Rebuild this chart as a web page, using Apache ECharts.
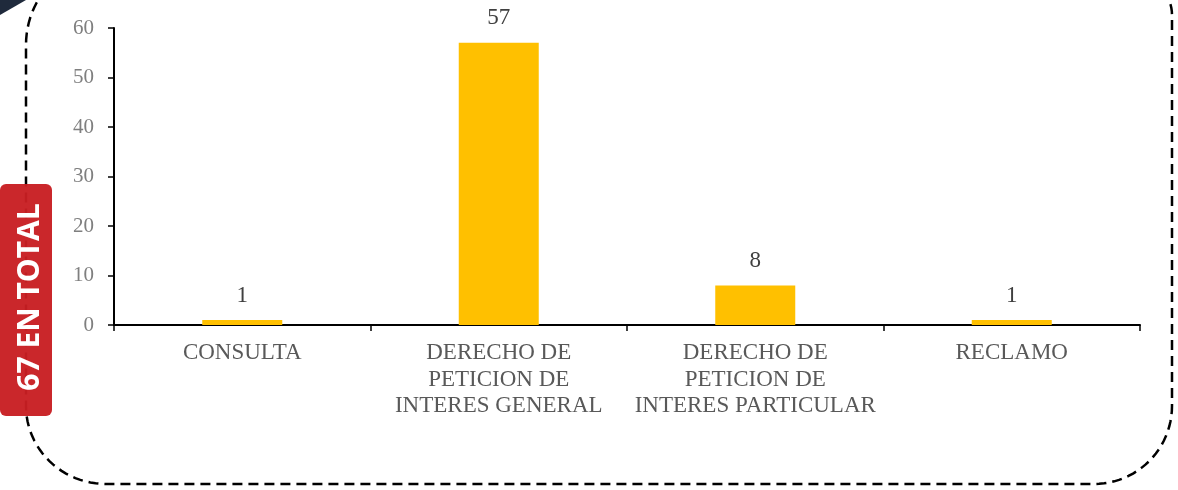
<!DOCTYPE html>
<html><head><meta charset="utf-8">
<script src="https://cdn.jsdelivr.net/npm/echarts@6/dist/echarts.min.js"></script>
<style>html,body{margin:0;padding:0;background:#fff}#c{width:1178px;height:490px}</style>
</head><body><div id="c"></div>
<script>
const categories = ['CONSULTA', 'DERECHO DE\nPETICION DE\nINTERES GENERAL', 'DERECHO DE\nPETICION DE\nINTERES PARTICULAR', 'RECLAMO'];
const values = [1, 57, 8, 1];
const yTicks = [0, 10, 20, 30, 40, 50, 60];
const totalLabel = '67 EN TOTAL';

// decorative dashed frame: rounded rectangle outline built from corner arcs
function frame() {
  const pts = [];
  function arc(cx, cy, rx, ry, a0, a1) {
    const n = 24;
    for (let i = 0; i <= n; i++) {
      const a = a0 + (a1 - a0) * i / n;
      pts.push([cx + rx * Math.cos(a), cy + ry * Math.sin(a)]);
    }
  }
  const P = Math.PI;
  arc(1092, 15, 80, 55, -P / 2, 0);          // top-right
  arc(1094, 406, 78, 78, 0, P / 2);          // bottom-right
  arc(106, 406, 80, 78, P / 2, P);           // bottom-left
  arc(106, 45, 80, 85, P, 1.5 * P);          // top-left
  pts.push([1092, -40]);
  return pts;
}

const chart = echarts.init(document.getElementById('c'));
chart.setOption({
  animation: false,
  grid: {left: 114, right: 38, top: 28, bottom: 165},
  xAxis: {
    type: 'category', data: categories,
    axisLine: {lineStyle: {color: '#000', width: 2}},
    axisTick: {show: true, interval: 0, length: 6, lineStyle: {color: '#000', width: 1.5}},
    axisLabel: {interval: 0, color: '#595959', fontFamily: 'Liberation Serif', fontSize: 23, lineHeight: 26.5, margin: 15}
  },
  yAxis: {
    type: 'value', min: yTicks[0], max: yTicks[yTicks.length - 1], interval: 10,
    splitLine: {show: false},
    axisLine: {show: true, lineStyle: {color: '#000', width: 2}},
    axisTick: {show: true, length: 6, lineStyle: {color: '#000', width: 1.5}},
    axisLabel: {color: '#7f7f7f', fontFamily: 'Liberation Serif', fontSize: 21, margin: 20}
  },
  series: [{
    type: 'bar', data: values, barWidth: 80,
    itemStyle: {color: '#FFC000'},
    label: {show: true, position: 'top', distance: 13, color: '#404040', fontFamily: 'Liberation Serif', fontSize: 23}
  }],
  graphic: [
    {type: 'polygon', shape: {points: [[0,0],[26,0],[0,15]]}, style: {fill: '#1f2a3c'}},
    {type: 'polyline', z: 0, shape: {points: frame()},
     style: {fill: null, stroke: '#000', lineWidth: 2.5, lineDash: [10, 6]}},
    {type: 'rect', shape: {x: 0, y: 184, width: 52, height: 232, r: 6},
     style: {fill: 'rgba(200,30,34,0.96)'}, z: 10},
    {type: 'text', x: 30, y: 297, rotation: Math.PI / 2, z: 11,
     style: {text: totalLabel, fill: '#fff', font: 'bold 30px "Open Sans"', align: 'center', verticalAlign: 'middle'}}
  ]
});
</script></body></html>
